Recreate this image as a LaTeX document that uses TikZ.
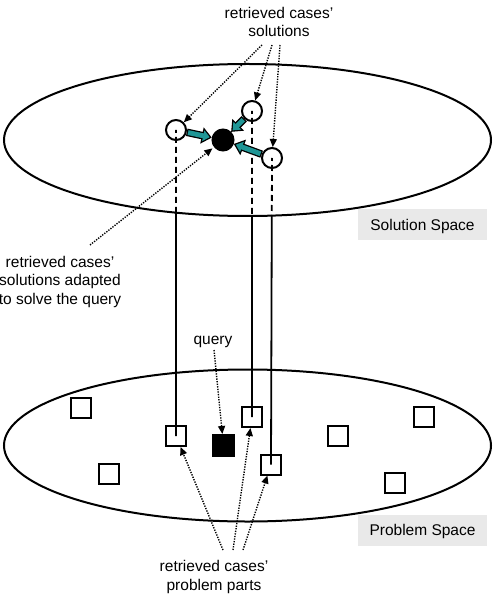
\documentclass[tikz,border=0pt]{standalone}
\usepackage{fontspec}
\setmainfont{Liberation Sans}
\usetikzlibrary{shapes.geometric, arrows.meta, intersections}
\definecolor{arrowteal}{RGB}{32,150,150}
\definecolor{labelgray}{RGB}{233,233,233}

\begin{document}
\begin{tikzpicture}[
    x=1pt, y=-1pt,
    txt/.style={align=center, font=\fontsize{15.5}{18.5}\selectfont, inner sep=0pt},
    space/.style={draw, ellipse, line width=2pt, minimum width=487pt,
      minimum height=152pt, inner sep=0pt},
    spacelabel/.style={fill=labelgray, minimum width=129pt, minimum height=31pt,
      text height=11pt, text depth=0pt, font=\fontsize{15.5}{18.5}\selectfont},
    sol/.style={draw, circle, line width=2pt, minimum size=20pt, inner sep=0pt},
    prob/.style={draw, rectangle, line width=2pt, minimum size=20pt, inner sep=0pt},
    pointer/.style={line width=1.4pt, dash pattern=on 1.3pt off 1.3pt,
      -{Triangle[length=8pt,width=7pt]}},
    fatout/.style={line width=7.5pt, -{Triangle[length=10pt,width=16pt]}},
    fatin/.style={line width=4.9pt, arrowteal, shorten <=1.3pt, shorten >=2.1pt,
      -{Triangle[length=6.6pt,width=10.6pt]}},
    link/.style={line width=1.8pt},
    dashlink/.style={line width=1.8pt, dash pattern=on 6pt off 4pt, dash phase=3pt}
]
\useasboundingbox (0,0) rectangle (495,601);

% the two spaces
\node[space, name path=solrim] (solspace) at (247.5,140) {};
\node[space] (probspace) at (247.5,445.5) {};
\node[spacelabel] (sollabel) at (422.5,224.5) {Solution Space};
\node[spacelabel] (problabel) at (422.5,530) {Problem Space};

% solutions
\node[sol] (c1) at (176,130) {};
\node[sol] (c2) at (252,111) {};
\node[sol] (c3) at (272,158) {};
\node[sol, fill=black, minimum size=21pt] (adapt) at (223,140) {};

% problem parts
\node[prob] (s1) at (176,436) {};
\node[prob] (s2) at (252,417) {};
\node[prob] (s3) at (271,464.5) {};
\node[prob, fill=black, minimum size=21pt] (qsq) at (223.5,445.5) {};
\foreach \x/\y [count=\i] in {81/408, 109/474, 338/436, 424/417, 395/483}
  \node[prob] (p\i) at (\x,\y) {};

% labels
\node[txt] (toplbl) at (279,22) {retrieved cases'\\solutions};
\node[txt] (adaptlbl) at (60,281.5) {retrieved cases'\\solutions adapted\\to solve the query};
\node[txt, anchor=base] (querylbl) at (213,344) {query};
\node[txt] (botlbl) at (214,577) {retrieved cases'\\problem parts};

\coordinate (t1) at (262,45);
\coordinate (t2) at (272,45);
\coordinate (t3) at (280,45);
\coordinate (a1) at (90,245);
\coordinate (q1) at (214,350);
\coordinate (u1) at (223,550);
\coordinate (u2) at (233,550);
\coordinate (u3) at (243,550);

% case links, dashed inside the solution space
\foreach \c/\s in {c1/s1, c2/s2, c3/s3} {
  \path[name path=vline] (\c.center) -- (\s.center);
  \draw[dashlink, name intersections={of=solrim and vline, by=rim\c}] (\c.center) -- (rim\c);
  \draw[link] (rim\c) -- (\s.center);
}

% adaptation arrows
\foreach \c in {c1, c2, c3} {
  \draw[fatout] (\c) -- (adapt);
  \draw[fatin] (\c) -- (adapt);
}

% pointers
\draw[pointer] (t1) -- (c1);
\draw[pointer] (t2) -- (c2);
\draw[pointer] (t3) -- (c3);
\draw[pointer, shorten >=2pt] (a1) -- (adapt);
\draw[pointer] (q1) -- (qsq);
\draw[pointer] (u1) -- (s1);
\draw[pointer] (u2) -- (s2);
\draw[pointer] (u3) -- (s3);
\end{tikzpicture}
\end{document}
